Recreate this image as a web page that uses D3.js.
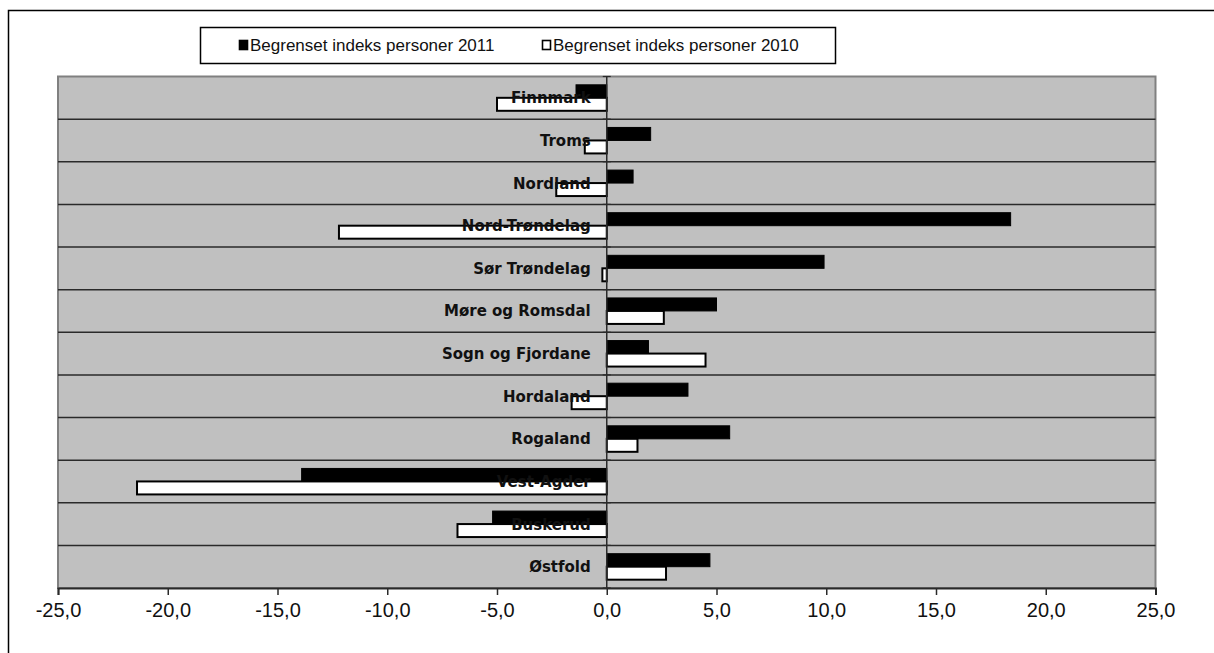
<!DOCTYPE html>
<html>
<head>
<meta charset="utf-8">
<script src="https://cdn.jsdelivr.net/npm/d3@7"></script>
<style>
  html, body { margin: 0; padding: 0; background: #ffffff; }
  svg { display: block; }
</style>
</head>
<body>
<svg id="chart" width="1214" height="653"></svg>
<script>
// Data (top to bottom as drawn)
const categories = ["Finnmark", "Troms", "Nordland", "Nord-Trøndelag", "Sør Trøndelag",
  "Møre og Romsdal", "Sogn og Fjordane", "Hordaland", "Rogaland", "Vest-Agder", "Buskerud", "Østfold"];
const values2011 = [-1.4, 2.0, 1.2, 18.4, 9.9, 5.0, 1.9, 3.7, 5.6, -13.9, -5.2, 4.7];
const values2010 = [-5.0, -1.0, -2.3, -12.2, -0.2, 2.6, 4.5, -1.6, 1.4, -21.4, -6.8, 2.7];
const seriesNames = ["Begrenset indeks personer 2011", "Begrenset indeks personer 2010"];
const xTicks = [-25, -20, -15, -10, -5, 0, 5, 10, 15, 20, 25];

const svg = d3.select("#chart");

// outer chart frame
svg.append("rect").attr("x", 8.5).attr("y", 10.5).attr("width", 1300).attr("height", 700)
  .attr("fill", "#ffffff").attr("stroke", "#000").attr("stroke-width", 1.5);

const plot = { left: 58, right: 1155.5, top: 76.5, bottom: 588 };

const x = d3.scaleLinear().domain([-25, 25]).range([plot.left, plot.right]);
const y = d3.scaleBand().domain(categories).range([plot.top, plot.bottom]).padding(0);
const ySub = d3.scaleBand().domain(["2011", "2010"]).range([0, y.bandwidth()])
  .paddingInner(0).paddingOuter(0.64);

// plot background
svg.append("rect").attr("x", plot.left).attr("y", plot.top)
  .attr("width", plot.right - plot.left).attr("height", plot.bottom - plot.top)
  .attr("fill", "#c0c0c0").attr("stroke", "#808080").attr("stroke-width", 2);

// horizontal gridlines at category boundaries
svg.append("g").selectAll("line").data(categories.slice(1)).join("line")
  .attr("x1", plot.left).attr("x2", plot.right)
  .attr("y1", d => y(d)).attr("y2", d => y(d))
  .attr("stroke", "#2a2a2a").attr("stroke-width", 1.5);

// bars
const rows = categories.map((c, i) => ({ c, v11: values2011[i], v10: values2010[i] }));
const g = svg.append("g");
g.selectAll("rect.b11").data(rows).join("rect").attr("class", "b11")
  .attr("x", d => x(Math.min(0, d.v11))).attr("width", d => Math.abs(x(d.v11) - x(0)))
  .attr("y", d => y(d.c) + ySub("2011")).attr("height", ySub.bandwidth())
  .attr("fill", "#000").attr("stroke", "#000").attr("stroke-width", 1);
g.selectAll("rect.b10").data(rows).join("rect").attr("class", "b10")
  .attr("x", d => x(Math.min(0, d.v10))).attr("width", d => Math.abs(x(d.v10) - x(0)))
  .attr("y", d => y(d.c) + ySub("2010")).attr("height", ySub.bandwidth())
  .attr("fill", "#fff").attr("stroke", "#000").attr("stroke-width", 2);

// zero (category) axis line
const x0 = x(0);
svg.append("line").attr("x1", x0).attr("x2", x0).attr("y1", plot.top).attr("y2", plot.bottom)
  .attr("stroke", "#2a2a2a").attr("stroke-width", 1.5);
svg.append("g").selectAll("line").data(categories.concat(["_end"])).join("line")
  .attr("x1", x0 - 4).attr("x2", x0 + 4)
  .attr("y1", d => d === "_end" ? plot.bottom : y(d))
  .attr("y2", d => d === "_end" ? plot.bottom : y(d))
  .attr("stroke", "#2a2a2a").attr("stroke-width", 1.2);

// category labels
svg.append("g").selectAll("text").data(categories).join("text")
  .attr("x", x0 - 16).attr("y", d => y(d) + y.bandwidth() / 2 + 5.5)
  .attr("text-anchor", "end")
  .attr("font-family", "'DejaVu Sans', Verdana, sans-serif").attr("font-weight", "bold")
  .attr("font-size", 15).attr("fill", "#111")
  .text(d => d);

// x axis
const xAxis = d3.axisBottom(x).tickValues(xTicks).tickSize(7).tickPadding(8)
  .tickFormat(d => d3.format(".1f")(d).replace(".", ",").replace("−", "-"));
const ax = svg.append("g").attr("transform", `translate(0,${plot.bottom})`).call(xAxis);
ax.select(".domain").attr("stroke", "#2a2a2a").attr("stroke-width", 2);
ax.selectAll(".tick line").attr("stroke", "#2a2a2a").attr("stroke-width", 1.5);
ax.selectAll(".tick text").attr("font-family", "'Liberation Sans', Arial, sans-serif")
  .attr("font-size", 20).attr("fill", "#111");

// legend
svg.append("rect").attr("x", 200.5).attr("y", 27.5).attr("width", 635).attr("height", 36)
  .attr("fill", "#fff").attr("stroke", "#000").attr("stroke-width", 1.5);
const legendItems = [
  { name: seriesNames[0], fill: "#000", x: 239 },
  { name: seriesNames[1], fill: "#fff", x: 542 }
];
const lg = svg.append("g").selectAll("g").data(legendItems).join("g")
  .attr("transform", d => `translate(${d.x},45)`);
lg.append("rect").attr("x", 0.5).attr("y", -4.5).attr("width", 8).attr("height", 9)
  .attr("fill", d => d.fill).attr("stroke", "#000").attr("stroke-width", 1.6);
lg.append("text").attr("x", 11).attr("y", 6)
  .attr("font-family", "'Liberation Sans', Arial, sans-serif").attr("font-size", 17)
  .attr("fill", "#111").text(d => d.name);
</script>
</body>
</html>
